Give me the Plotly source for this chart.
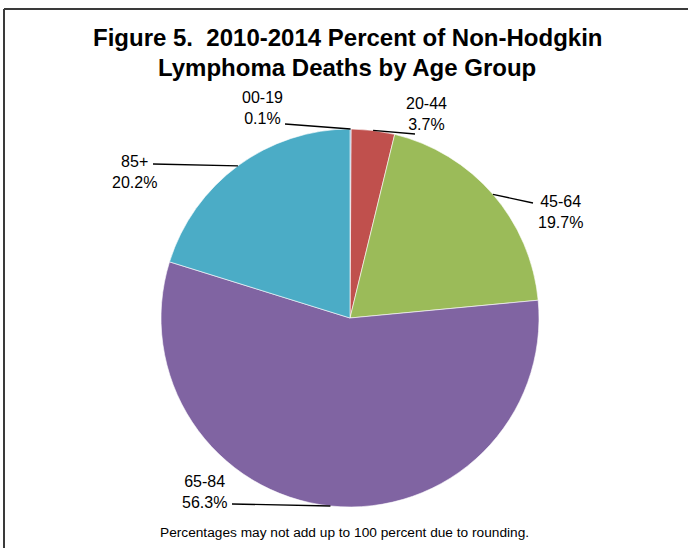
import math
import plotly.graph_objects as go

# ---- data ----
age_groups = ["00-19", "20-44", "45-64", "65-84", "85+"]
percents = [0.1, 3.7, 19.7, 56.3, 20.2]
slice_colors = ["#4F81BD", "#C0504D", "#9BBB59", "#8064A2", "#4BACC6"]

title_lines = ["Figure 5.  2010-2014 Percent of Non-Hodgkin",
               "Lymphoma Deaths by Age Group"]
footnote_text = "Percentages may not add up to 100 percent due to rounding."

# ---- layout (pixels) ----
W, H = 688, 548
CX, CY, R = 350, 318, 189
# label block centres and leader-line end points, per category
label_centers = {"00-19": (262, 108), "20-44": (426, 114), "45-64": (560, 212),
                 "65-84": (204, 492), "85+": (134, 172)}
line_ends = {"00-19": (285, 124), "20-44": (415, 134), "45-64": (533, 203),
             "65-84": (232, 504), "85+": (153, 164)}
title_line_y = [38, 67]

FONT = "Liberation Sans, Arial, sans-serif"


def px(x):
    return x / W


def py(y):
    return 1 - y / H


fig = go.Figure(go.Pie(
    labels=age_groups,
    values=percents,
    sort=False,
    direction="clockwise",
    rotation=0,
    marker=dict(colors=slice_colors, line=dict(color="white", width=0.6)),
    textinfo="none",
    hoverinfo="label+percent",
    showlegend=False,
    domain=dict(x=[px(CX - R), px(CX + R)], y=[py(CY + R), py(CY - R)]),
))

annotations = []
shapes = []
total = sum(percents)
cum = 0.0
for name, v in zip(age_groups, percents):
    mid = (cum + v / 2) / total * 2 * math.pi
    cum += v
    sx = CX + R * math.sin(mid)
    sy = CY - R * math.cos(mid)
    ex, ey = line_ends[name]
    shapes.append(dict(type="line", xref="paper", yref="paper",
                       x0=px(sx), y0=py(sy), x1=px(ex), y1=py(ey),
                       line=dict(color="black", width=1.3)))
    lx, ly = label_centers[name]
    annotations.append(dict(x=px(lx), y=py(ly), xref="paper", yref="paper",
                            text=f"{name}<br>{v:.1f}%", showarrow=False,
                            xanchor="center", yanchor="middle", align="center",
                            font=dict(family=FONT, size=16, color="black")))

for line, ty in zip(title_lines, title_line_y):
    annotations.append(dict(x=px(347), y=py(ty), xref="paper", yref="paper",
                            text=f"<b>{line}</b>", showarrow=False,
                            xanchor="center", yanchor="middle", align="center",
                            font=dict(family=FONT, size=24, color="black")))
annotations.append(dict(x=px(344), y=py(532), xref="paper", yref="paper",
                        text=footnote_text, showarrow=False,
                        xanchor="center", yanchor="middle",
                        font=dict(family=FONT, size=13.7, color="black")))

# chart frame (top and left edges visible)
shapes.append(dict(type="line", xref="paper", yref="paper",
                   x0=px(4), y0=py(9), x1=1.0, y1=py(9),
                   line=dict(color="#3a3a3a", width=2)))
shapes.append(dict(type="line", xref="paper", yref="paper",
                   x0=px(4), y0=py(9), x1=px(4), y1=0.0,
                   line=dict(color="#3a3a3a", width=2)))

fig.update_layout(
    width=W, height=H,
    margin=dict(l=0, r=0, t=0, b=0),
    paper_bgcolor="white", plot_bgcolor="white",
    annotations=annotations, shapes=shapes,
)

fig.write_html("out.html")
